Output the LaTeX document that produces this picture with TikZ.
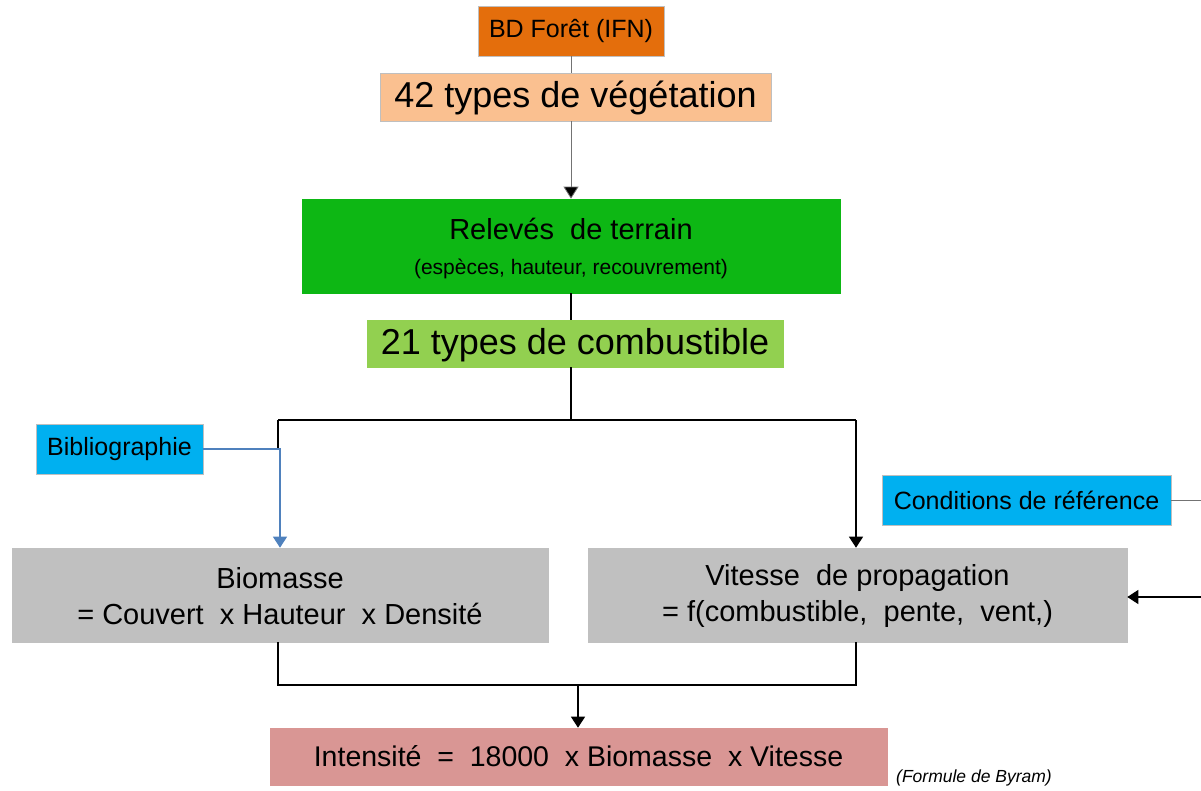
\documentclass[tikz,border=0pt]{standalone}
\usepackage{fontspec}
\setmainfont{Liberation Sans}
\usetikzlibrary{arrows.meta}
\definecolor{cOrange}{RGB}{228,110,12}
\definecolor{cPeach}{RGB}{250,192,144}
\definecolor{cGreen}{RGB}{13,183,20}
\definecolor{cLGreen}{RGB}{146,208,80}
\definecolor{cBlue}{RGB}{0,176,240}
\definecolor{cGray}{RGB}{192,192,192}
\definecolor{cPink}{RGB}{217,150,148}
\definecolor{cSteel}{RGB}{79,129,189}
\newcommand{\fsz}[1]{\fontsize{#1}{#1}\selectfont}
\tikzset{
  box/.style={rectangle, inner sep=0pt, align=center, draw=black!25, line width=0.6pt},
  conn/.style={draw=black, line width=1.3pt},
  thinconn/.style={draw=black!55, line width=0.8pt},
  tip/.style={-{Triangle[width=14pt,length=11pt]}},
}
\begin{document}
\begin{tikzpicture}[x=1pt,y=-1pt]
\useasboundingbox (0,0) rectangle (1201,791);
% nodes
\node[box, fill=cOrange, minimum width=186pt, minimum height=50pt] (bd) at (571,31) {\fsz{25}BD Forêt (IFN)};
\node[box, fill=cPeach, minimum width=391pt, minimum height=48pt, text height=29pt, text depth=8pt] (veg) at (575.5,97) {\fsz{36}42 types de végétation};
\node[box, fill=cGreen, draw=cGreen, minimum width=538pt, minimum height=94pt] (rel) at (571,246) {};
\node (relA) at (571,229) {\fsz{29}Relevés\ \ de terrain};
\node (relB) at (571,269) {\fsz{21}(espèces, hauteur, recouvrement)};
\node[box, fill=cLGreen, draw=cLGreen, minimum width=416pt, minimum height=47pt, text height=29pt, text depth=8pt] (comb) at (575,343.5) {\fsz{36}21 types de combustible};
\node[box, fill=cBlue, minimum width=167pt, minimum height=50pt] (biblio) at (119.5,449) {\fsz{25}Bibliographie};
\node[box, fill=cBlue, minimum width=289pt, minimum height=50pt] (cond) at (1026.5,500) {\fsz{25}Conditions de référence};
\node[box, fill=cGray, draw=cGray, minimum width=536pt, minimum height=94pt] (bio) at (280,595) {};
\node (bioA) at (280,578) {\fsz{29}Biomasse};
\node (bioB) at (280,614) {\fsz{29}= Couvert\ \ x Hauteur\ \ x Densité};
\node[box, fill=cGray, draw=cGray, minimum width=539pt, minimum height=94pt] (vit) at (857.5,595) {};
\node (vitA) at (857.5,578) {\fsz{29}Vitesse\ \ de propagation};
\node (vitB) at (857.5,614) {\fsz{29}= f(combustible,\ \ pente,\ \ vent,)};
\node[box, fill=cPink, draw=cPink, minimum width=617pt, minimum height=57pt] (int) at (578.5,756.5) {\fsz{28.5}Intensité\ \ =\ \ 18000\ \ x Biomasse\ \ x Vitesse};
\node[anchor=west, inner sep=0pt] (byram) at (896,778) {\fsz{17.5}\itshape (Formule de Byram)};
% coordinates
\coordinate (j1) at (571,420);
\coordinate (jl) at (278,420);
\coordinate (jr) at (856,420);
\coordinate (b1) at (278,685);
\coordinate (b2) at (856,685);
\coordinate (bm) at (578,685);
\coordinate (r1) at (1201,500);
\coordinate (r2) at (1201,597);
% connectors
\draw[thinconn] (bd.south) -- (bd.south |- veg.north);
\draw[thinconn, -{Triangle[width=15pt,length=12pt,fill=black]}] (bd.south |- veg.south) -- (rel.north);
\draw[conn] (rel.south) -- (rel.south |- comb.north);
\draw[conn] (comb.south -| rel.south) -- (j1);
\draw[conn] (jl) -- (jr);
\draw[conn, tip] (jr) -- (jr |- vit.north);
\draw[conn] (jl) -- (jl |- biblio.east);
\draw[draw=cSteel, line width=1.3pt, -{Triangle[width=14pt,length=11pt,fill=cSteel]}] (biblio.east) -| (bio.north);
\draw[conn] (bio.south -| b1) -- (b1) -- (b2) -- (vit.south -| b2);
\draw[conn, tip] (bm) -- (bm |- int.north);
\draw[thinconn] (cond.east) -- (r1);
\draw[conn, tip] (r2) -- (r2 -| vit.east);
\end{tikzpicture}
\end{document}
